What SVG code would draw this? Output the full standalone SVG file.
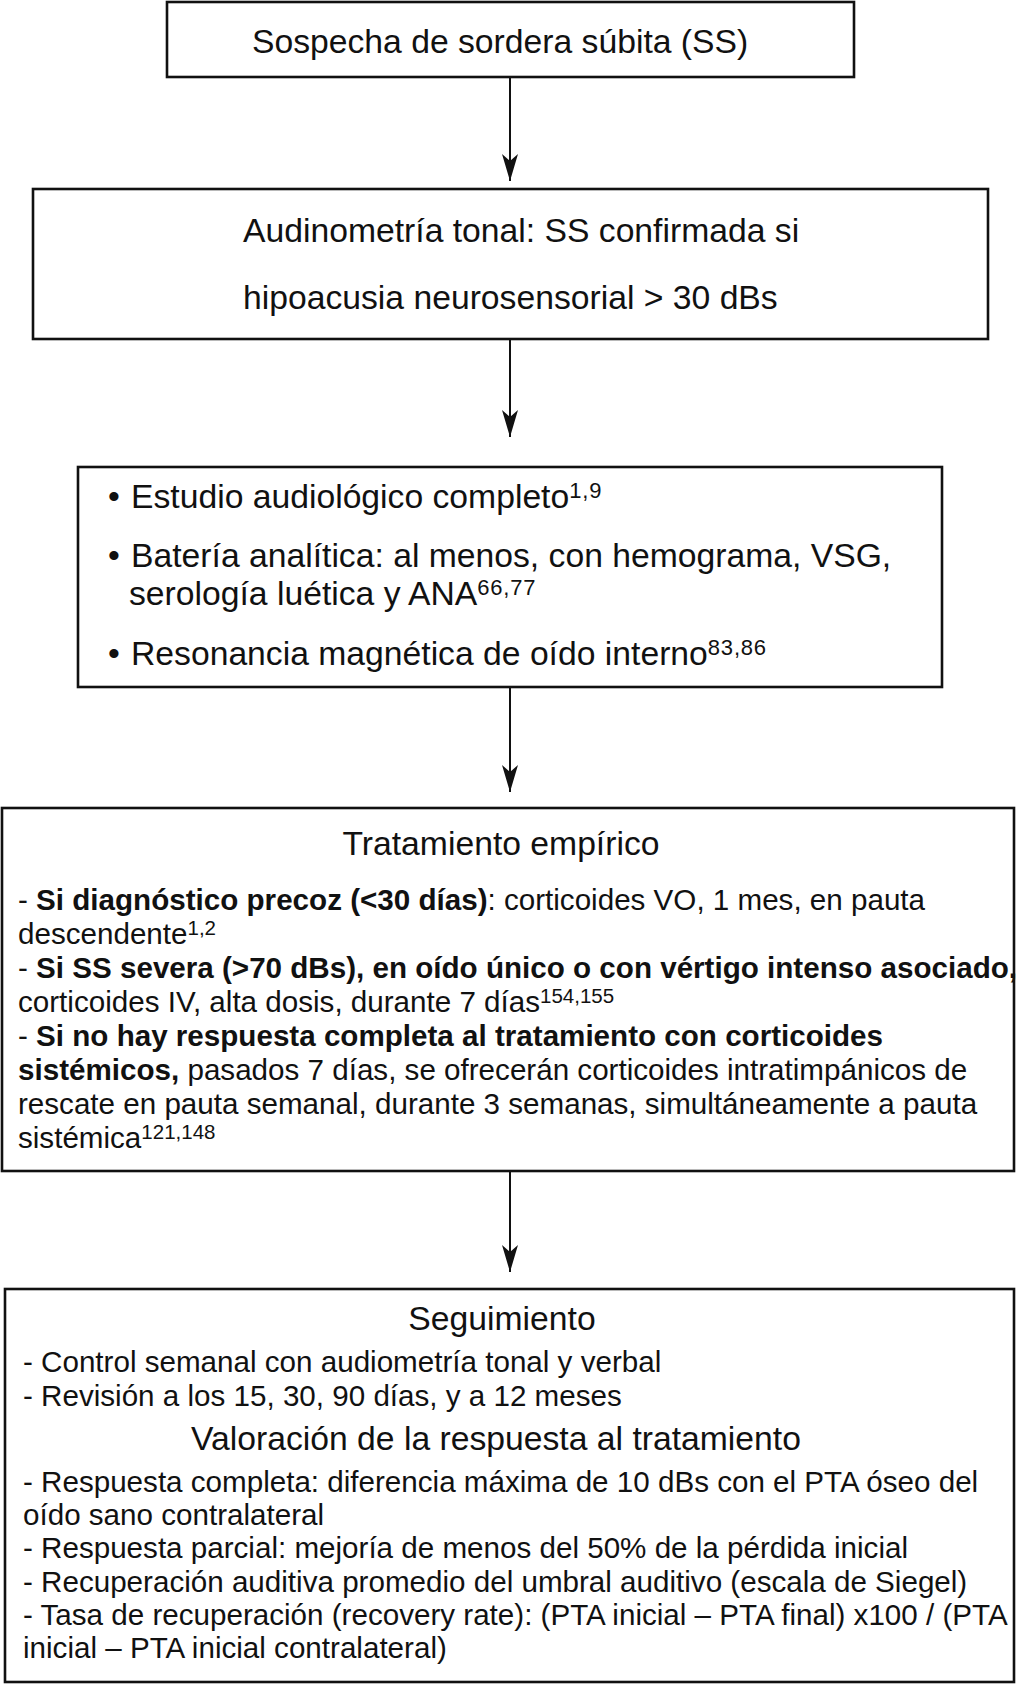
<svg xmlns="http://www.w3.org/2000/svg" width="1024" height="1684" viewBox="0 0 1024 1684">
<style>
  .box { fill: #fff; stroke: #111; stroke-width: 2.6; }
  .conn { fill: none; stroke: #111; stroke-width: 2; }
  text { font-family: "Liberation Sans", Arial, Helvetica, sans-serif; fill: #111; }
  .big { font-size: 33.7px; }
  .body { font-size: 29.6px; }
  .b { font-weight: bold; }
  .sup { font-size: 22px; letter-spacing: 0.8px; }
  .sup2 { font-size: 20.5px; }
  .mid { text-anchor: middle; }
</style>
<defs>
  <marker id="arrow" markerUnits="userSpaceOnUse" markerWidth="30" markerHeight="18" refX="27" refY="8" orient="auto" overflow="visible">
    <path d="M0,0 L27,8 L0,16 L7,8 Z" fill="#111"/>
  </marker>
</defs>
<rect width="1024" height="1684" fill="#fff"/>

<g id="connectors">
  <line class="conn" x1="510" y1="77" x2="510" y2="181" marker-end="url(#arrow)"/>
  <line class="conn" x1="510" y1="339" x2="510" y2="437" marker-end="url(#arrow)"/>
  <line class="conn" x1="510" y1="688" x2="510" y2="792" marker-end="url(#arrow)"/>
  <line class="conn" x1="510" y1="1171" x2="510" y2="1272" marker-end="url(#arrow)"/>
</g>

<g id="node-sospecha">
  <rect class="box" x="167" y="2" width="687" height="75"/>
  <text class="big" x="252" y="53">Sospecha de sordera súbita (SS)</text>
</g>

<g id="node-audiometria">
  <rect class="box" x="33" y="189" width="955" height="150"/>
  <text class="big" x="243" y="242">Audinometría tonal: SS confirmada si</text>
  <text class="big" x="243" y="309">hipoacusia neurosensorial &gt; 30 dBs</text>
</g>

<g id="node-estudio">
  <rect class="box" x="78" y="467" width="864" height="220"/>
  <text class="big" x="108" y="508">•</text>
  <text class="big" x="131" y="508">Estudio audiológico completo<tspan class="sup" dy="-10">1,9</tspan></text>
  <text class="big" x="108" y="567">•</text>
  <text class="big" x="131" y="567">Batería analítica: al menos, con hemograma, VSG,</text>
  <text class="big" x="129" y="605">serología luética y ANA<tspan class="sup" dy="-10">66,77</tspan></text>
  <text class="big" x="108" y="665">•</text>
  <text class="big" x="131" y="665">Resonancia magnética de oído interno<tspan class="sup" dy="-10">83,86</tspan></text>
</g>

<g id="node-tratamiento">
  <rect class="box" x="2" y="808" width="1012" height="363"/>
  <text class="big mid" x="501" y="855">Tratamiento empírico</text>
  <text class="body" x="18" y="910">- <tspan class="b">Si diagnóstico precoz (&lt;30 días)</tspan>: corticoides VO, 1 mes, en pauta</text>
  <text class="body" x="18" y="944">descendente<tspan class="sup2" dy="-9">1,2</tspan></text>
  <text class="body" x="18" y="978">- <tspan class="b">Si SS severa (&gt;70 dBs), en oído único o con vértigo intenso asociado,</tspan></text>
  <text class="body" x="18" y="1012">corticoides IV, alta dosis, durante 7 días<tspan class="sup2" dy="-9">154,155</tspan></text>
  <text class="body" x="18" y="1046">- <tspan class="b">Si no hay respuesta completa al tratamiento con corticoides</tspan></text>
  <text class="body" x="18" y="1080"><tspan class="b">sistémicos,</tspan> pasados 7 días, se ofrecerán corticoides intratimpánicos de</text>
  <text class="body" x="18" y="1114">rescate en pauta semanal, durante 3 semanas, simultáneamente a pauta</text>
  <text class="body" x="18" y="1148">sistémica<tspan class="sup2" dy="-9">121,148</tspan></text>
</g>

<g id="node-seguimiento">
  <rect class="box" x="5" y="1289" width="1009" height="393"/>
  <text class="big mid" x="502" y="1330">Seguimiento</text>
  <text class="body" x="23" y="1372">- Control semanal con audiometría tonal y verbal</text>
  <text class="body" x="23" y="1406">- Revisión a los 15, 30, 90 días, y a 12 meses</text>
  <text class="big mid" x="496" y="1450">Valoración de la respuesta al tratamiento</text>
  <text class="body" x="23" y="1492">- Respuesta completa: diferencia máxima de 10 dBs con el PTA óseo del</text>
  <text class="body" x="23" y="1525">oído sano contralateral</text>
  <text class="body" x="23" y="1558">- Respuesta parcial: mejoría de menos del 50% de la pérdida inicial</text>
  <text class="body" x="23" y="1592">- Recuperación auditiva promedio del umbral auditivo (escala de Siegel)</text>
  <text class="body" x="23" y="1625">- Tasa de recuperación (recovery rate): (PTA inicial – PTA final) x100 / (PTA</text>
  <text class="body" x="23" y="1658">inicial – PTA inicial contralateral)</text>
</g>
</svg>
